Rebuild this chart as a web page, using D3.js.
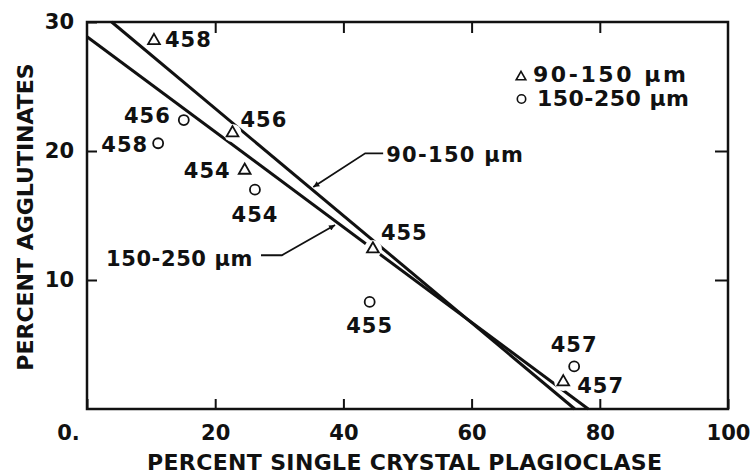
<!DOCTYPE html>
<html>
<head>
<meta charset="utf-8">
<script src="https://cdnjs.cloudflare.com/ajax/libs/d3/7.8.5/d3.min.js"></script>
<style>
  body { margin: 0; background: #fff; }
  text { font-family: "DejaVu Sans", sans-serif; font-weight: bold; fill: #111; }
</style>
</head>
<body>
<div id="chart"></div>
<script>
// size fractions
var sizeClasses = ['90-150 \u00b5m', '150-250 \u00b5m'];

// 90-150 um samples (triangles)
var fineSamples = ['458', '456', '454', '455', '457'];
var finePlag = [10.45, 22.7, 24.6, 44.6, 74.3];
var fineAgg = [28.55, 21.4, 18.5, 12.4, 2.1];

// 150-250 um samples (circles)
var coarseSamples = ['456', '458', '454', '455', '457'];
var coarsePlag = [15.1, 11.1, 26.2, 44.1, 76.0];
var coarseAgg = [22.4, 20.6, 17.0, 8.3, 3.3];

// fitted lines, end points
var fineLinePlag = [3.85, 76.1];
var fineLineAgg = [30, 0];
var coarseLinePlag = [0, 78.2];
var coarseLineAgg = [28.86, 0];

// leader lines that tie the line labels to the lines
var fineLeaderPlag = [46.2, 43.4, 35.3];
var fineLeaderAgg = [19.82, 19.82, 17.2];
var coarseLeaderPlag = [27.15, 30.4, 38.7];
var coarseLeaderAgg = [11.92, 11.92, 14.26];

var xTicks = [0, 20, 40, 60, 80, 100];
var xTickLabels = ['0.', '20', '40', '60', '80', '100'];
var yTicks = [10, 20, 30];
var yTickLabels = ['10', '20', '30'];

// label placement next to each marker: dx, dy, anchor
var fineLabelPos = [[11, 6, 'start'], [8, -6, 'start'], [-14, 8, 'end'], [8, -9, 'start'], [14, 11, 'start']];
var coarseLabelPos = [[-13, 3, 'end'], [-10, 9, 'end'], [0, 32, 'middle'], [0, 31, 'middle'], [0, -14, 'middle']];

var width = 752;
var height = 474;

var svg = d3.select('#chart').append('svg')
  .attr('width', width)
  .attr('height', height);

svg.append('rect').attr('width', width).attr('height', height).attr('fill', '#fff');

var x = d3.scaleLinear().domain([0, 100]).range([87, 728]);
var y = d3.scaleLinear().domain([0, 30]).range([409, 22]);

svg.append('defs').append('marker')
  .attr('id', 'arrow')
  .attr('viewBox', '0 0 10 10')
  .attr('refX', 10).attr('refY', 5)
  .attr('markerWidth', 9).attr('markerHeight', 6)
  .attr('markerUnits', 'userSpaceOnUse')
  .attr('orient', 'auto')
  .append('path')
  .attr('d', 'M0,0 L10,5 L0,10 Z')
  .attr('fill', '#111');

// axes, all ticks pointing inward
var bottom = svg.append('g')
  .attr('transform', 'translate(0,' + y(0) + ')')
  .call(d3.axisBottom(x).tickValues(xTicks).tickSize(-10).tickSizeOuter(0).tickPadding(16)
    .tickFormat(function (d, i) { return xTickLabels[i]; }));
bottom.selectAll('text').filter(function (d) { return d === 0; }).attr('dx', -19);

svg.append('g')
  .attr('transform', 'translate(' + x(0) + ',0)')
  .call(d3.axisLeft(y).tickValues(yTicks).tickSize(-10).tickSizeOuter(0).tickPadding(13)
    .tickFormat(function (d, i) { return yTickLabels[i]; }));

svg.append('g')
  .attr('transform', 'translate(0,' + y(30) + ')')
  .call(d3.axisTop(x).tickValues([20, 40, 60, 80]).tickSize(-11).tickSizeOuter(0).tickFormat(''));

svg.append('g')
  .attr('transform', 'translate(' + x(100) + ',0)')
  .call(d3.axisRight(y).tickValues([10, 20]).tickSize(-13).tickSizeOuter(0).tickFormat(''));

svg.selectAll('.domain').remove();
svg.selectAll('.tick line').attr('stroke', '#111').attr('stroke-width', 2);
svg.selectAll('.tick text').style('font-size', '21px').attr('fill', '#111');

svg.append('rect')
  .attr('x', x(0)).attr('y', y(30))
  .attr('width', x(100) - x(0)).attr('height', y(0) - y(30))
  .attr('fill', 'none').attr('stroke', '#111').attr('stroke-width', 2.5);

// fitted lines
var line = d3.line().x(function (d) { return x(d[0]); }).y(function (d) { return y(d[1]); });

svg.append('path')
  .datum(d3.zip(fineLinePlag, fineLineAgg))
  .attr('d', line)
  .attr('fill', 'none').attr('stroke', '#111').attr('stroke-width', 3);

svg.append('path')
  .datum(d3.zip(coarseLinePlag, coarseLineAgg))
  .attr('d', line)
  .attr('fill', 'none').attr('stroke', '#111').attr('stroke-width', 3);

// white halos so the lines break around the triangles
svg.selectAll('.halo')
  .data(d3.zip(finePlag, fineAgg))
  .enter().append('circle')
  .attr('class', 'halo')
  .attr('cx', function (d) { return x(d[0]); })
  .attr('cy', function (d) { return y(d[1]); })
  .attr('r', 9)
  .attr('fill', '#fff');

svg.selectAll('.tri')
  .data(d3.zip(finePlag, fineAgg))
  .enter().append('path')
  .attr('class', 'tri')
  .attr('d', d3.symbol(d3.symbolTriangle, 60))
  .attr('transform', function (d) { return 'translate(' + x(d[0]) + ',' + y(d[1]) + ')'; })
  .attr('fill', '#fff').attr('stroke', '#111').attr('stroke-width', 1.8);

svg.selectAll('.dot')
  .data(d3.zip(coarsePlag, coarseAgg))
  .enter().append('circle')
  .attr('class', 'dot')
  .attr('cx', function (d) { return x(d[0]); })
  .attr('cy', function (d) { return y(d[1]); })
  .attr('r', 5)
  .attr('fill', '#fff').attr('stroke', '#111').attr('stroke-width', 1.8);

// sample numbers
function sampleLabels(names, px, py, pos) {
  svg.append('g').selectAll('text')
    .data(names)
    .enter().append('text')
    .attr('x', function (d, i) { return x(px[i]) + pos[i][0]; })
    .attr('y', function (d, i) { return y(py[i]) + pos[i][1]; })
    .attr('text-anchor', function (d, i) { return pos[i][2]; })
    .style('font-size', '21px')
    .style('letter-spacing', '1px')
    .text(function (d) { return d; });
}
sampleLabels(fineSamples, finePlag, fineAgg, fineLabelPos);
sampleLabels(coarseSamples, coarsePlag, coarseAgg, coarseLabelPos);

// leaders and line labels
var leader = d3.line().x(function (d) { return x(d[0]); }).y(function (d) { return y(d[1]); });

svg.append('path')
  .datum(d3.zip(fineLeaderPlag, fineLeaderAgg))
  .attr('d', leader)
  .attr('fill', 'none').attr('stroke', '#111').attr('stroke-width', 1.8)
  .attr('marker-end', 'url(#arrow)');

svg.append('path')
  .datum(d3.zip(coarseLeaderPlag, coarseLeaderAgg))
  .attr('d', leader)
  .attr('fill', 'none').attr('stroke', '#111').attr('stroke-width', 1.8)
  .attr('marker-end', 'url(#arrow)');

svg.append('text')
  .attr('x', x(fineLeaderPlag[0]) + 3)
  .attr('y', y(fineLeaderAgg[0]) + 9)
  .style('font-size', '21px').style('letter-spacing', '1.3px')
  .text(sizeClasses[0]);

svg.append('text')
  .attr('x', x(coarseLeaderPlag[0]) - 8)
  .attr('y', y(coarseLeaderAgg[0]) + 10.5)
  .attr('text-anchor', 'end')
  .style('font-size', '21px').style('letter-spacing', '0.6px')
  .text(sizeClasses[1]);

// legend
var legend = svg.append('g');
legend.append('path')
  .attr('d', d3.symbol(d3.symbolTriangle, 40))
  .attr('transform', 'translate(521,77)')
  .attr('fill', '#fff').attr('stroke', '#111').attr('stroke-width', 1.6);
legend.append('circle')
  .attr('cx', 521.5).attr('cy', 99).attr('r', 4.2)
  .attr('fill', '#fff').attr('stroke', '#111').attr('stroke-width', 1.6);
legend.append('text')
  .attr('x', 533).attr('y', 82)
  .attr('textLength', 153).attr('lengthAdjust', 'spacing')
  .style('font-size', '22px')
  .text(sizeClasses[0]);
legend.append('text')
  .attr('x', 537).attr('y', 106)
  .attr('textLength', 152).attr('lengthAdjust', 'spacing')
  .style('font-size', '22px')
  .text(sizeClasses[1]);

// axis titles
svg.append('text')
  .attr('x', 147).attr('y', 470)
  .attr('textLength', 515).attr('lengthAdjust', 'spacing')
  .style('font-size', '22px')
  .text('PERCENT SINGLE CRYSTAL PLAGIOCLASE');

svg.append('text')
  .attr('transform', 'translate(33,217) rotate(-90)')
  .attr('text-anchor', 'middle')
  .style('font-size', '22px')
  .text('PERCENT AGGLUTINATES');
</script>
</body>
</html>
